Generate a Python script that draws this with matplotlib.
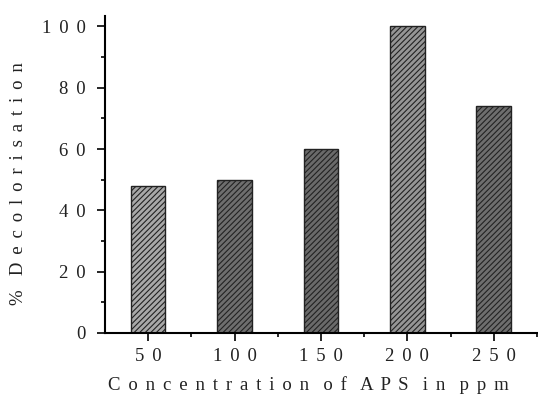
import numpy as np
import matplotlib.pyplot as plt
from matplotlib.ticker import MultipleLocator

# data
concentrations = ['50', '100', '150', '200', '250']
decolorisation = [48, 50, 60, 100, 74]
bar_colors = ['#a8a8a8', '#6e6e6e', '#6a6a6a', '#959595', '#6e6e6e']

GAP = ' \u2006'


def spaced(s):
    return GAP.join(s)


plt.rcParams['font.family'] = ['Liberation Serif', 'DejaVu Serif']
plt.rcParams['hatch.linewidth'] = 0.8

fig = plt.figure(figsize=(5.38, 3.94), dpi=100)
ax = fig.add_axes([0.195, 0.155, 0.803, 0.805])

x = np.arange(len(concentrations))
for xi, val, col in zip(x, decolorisation, bar_colors):
    ax.bar(xi, val, width=0.4, color=col, edgecolor='#222222', linewidth=1.0,
           hatch='//////')

ax.set_xlim(-0.5, 4.5)
ax.set_ylim(0, 103.5)
ax.set_xticks(x)
ax.set_xticklabels([spaced(c) for c in concentrations], fontsize=13.5, color='#222222')
ax.set_xticks(x + 0.5, minor=True)
ax.set_yticks(np.arange(0, 101, 20))
ax.set_yticklabels([spaced(str(v)) for v in range(0, 101, 20)], fontsize=13.5, color='#222222')
ax.yaxis.set_minor_locator(MultipleLocator(10))

ax.tick_params(which='major', direction='out', length=6, width=1.2, color='black')
ax.tick_params(which='minor', direction='out', length=3, width=1.2)
ax.tick_params(axis='x', pad=5)
ax.tick_params(axis='y', pad=8)

for side in ['top', 'right']:
    ax.spines[side].set_visible(False)
for side in ['left', 'bottom']:
    ax.spines[side].set_linewidth(1.5)

words = ['Concentration', 'of', 'APS', 'in', 'ppm']
ax.set_xlabel('   '.join(spaced(w) for w in words), fontsize=13.5, color='#222222')
ax.xaxis.set_label_coords(0.47, -0.135)
ax.set_ylabel('%   ' + spaced('Decolorisation'), fontsize=13.5, color='#222222')
ax.yaxis.set_label_coords(-0.18, 0.47)

fig.savefig('out.png', dpi=100)
